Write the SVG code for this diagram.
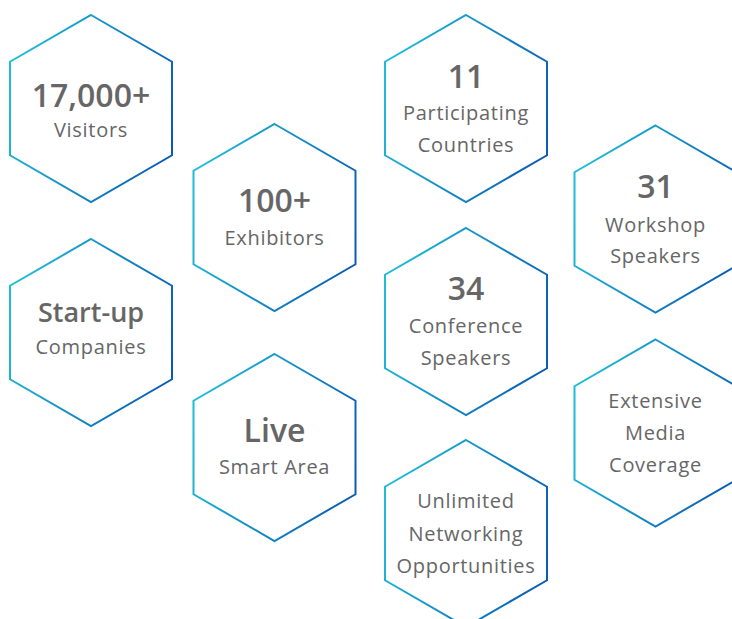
<svg xmlns="http://www.w3.org/2000/svg" xmlns:xlink="http://www.w3.org/1999/xlink" width="732" height="619" viewBox="0 0 732 619">
  <defs>
    <linearGradient id="hexGrad" x1="0" y1="0.35" x2="1" y2="0.65">
      <stop offset="0" stop-color="#1fbcd9"/>
      <stop offset="1" stop-color="#0a5cb3"/>
    </linearGradient>
    <path id="hex" d="M0,-93.5 L81,-46.75 L81,46.75 L0,93.5 L-81,46.75 L-81,-46.75 Z"/>
  </defs>
  <style>
    .hex { fill: #ffffff; stroke: url(#hexGrad); stroke-width: 2; }
    text { font-family: "Open Sans", "Noto Sans", "Liberation Sans", sans-serif; fill: #666666; text-anchor: middle; }
    .num { font-size: 32px; font-weight: 600; }
    .big { font-size: 27px; font-weight: 600; }
    .lbl { font-size: 20px; font-weight: 400; letter-spacing: 0.7px; }
  </style>
  <rect width="732" height="619" fill="#ffffff"/>
  <g id="connectors"/>

  <g id="n-visitors" transform="translate(91,108.5)">
    <use xlink:href="#hex" class="hex"/>
    <text class="num" x="0" y="-1.5">17,000+</text>
    <text class="lbl" x="0" y="28.5">Visitors</text>
  </g>

  <g id="n-exhibitors" transform="translate(274.5,217.5)">
    <use xlink:href="#hex" class="hex"/>
    <text class="num" x="0" y="-5.5">100+</text>
    <text class="lbl" x="0" y="27.5">Exhibitors</text>
  </g>

  <g id="n-countries" transform="translate(466,108.5)">
    <use xlink:href="#hex" class="hex"/>
    <text class="num" x="0" y="-20.5">11</text>
    <text class="lbl" x="0" y="11.5">Participating</text>
    <text class="lbl" x="0" y="43.5">Countries</text>
  </g>

  <g id="n-workshop" transform="translate(655.5,219)">
    <use xlink:href="#hex" class="hex"/>
    <text class="num" x="0" y="-21">31</text>
    <text class="lbl" x="0" y="13">Workshop</text>
    <text class="lbl" x="0" y="44">Speakers</text>
  </g>

  <g id="n-startup" transform="translate(91,332.5)">
    <use xlink:href="#hex" class="hex"/>
    <text class="big" x="0" y="-10.5">Start-up</text>
    <text class="lbl" x="0" y="21.5">Companies</text>
  </g>

  <g id="n-conference" transform="translate(466,321.5)">
    <use xlink:href="#hex" class="hex"/>
    <text class="num" x="0" y="-21.5">34</text>
    <text class="lbl" x="0" y="11.5">Conference</text>
    <text class="lbl" x="0" y="43.5">Speakers</text>
  </g>

  <g id="n-live" transform="translate(274.5,447.5)">
    <use xlink:href="#hex" class="hex"/>
    <text class="num" x="0" y="-5.5">Live</text>
    <text class="lbl" x="0" y="26.5">Smart Area</text>
  </g>

  <g id="n-media" transform="translate(655.5,433)">
    <use xlink:href="#hex" class="hex"/>
    <text class="lbl" x="0" y="-25.3">Extensive</text>
    <text class="lbl" x="0" y="7">Media</text>
    <text class="lbl" x="0" y="38.7">Coverage</text>
  </g>

  <g id="n-networking" transform="translate(466,533.5)">
    <use xlink:href="#hex" class="hex"/>
    <text class="lbl" x="0" y="-25.5">Unlimited</text>
    <text class="lbl" x="0" y="7.5">Networking</text>
    <text class="lbl" x="0" y="39.5">Opportunities</text>
  </g>
</svg>
